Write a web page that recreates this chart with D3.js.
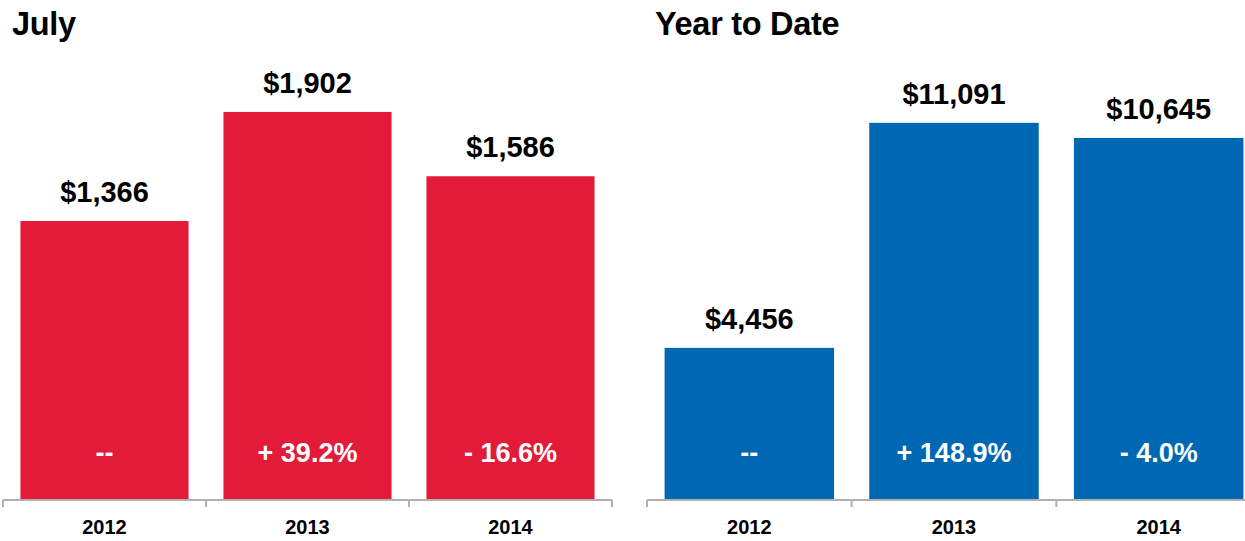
<!DOCTYPE html>
<html>
<head>
<meta charset="utf-8">
<script src="https://cdn.jsdelivr.net/npm/d3@7"></script>
<style>
  html, body { margin: 0; padding: 0; background: #fff; }
  svg { display: block; font-family: "Liberation Sans", Arial, sans-serif; }
</style>
</head>
<body>
<svg id="chart" width="1245" height="541"></svg>
<script>
// Sales by year: month and year-to-date totals
const years = ["2012", "2013", "2014"];
const julyValues = [1366, 1902, 1586];
const julyChange = ["--", "+ 39.2%", "- 16.6%"];
const ytdValues = [4456, 11091, 10645];
const ytdChange = ["--", "+ 148.9%", "- 4.0%"];
const panelTitles = ["July", "Year to Date"];

const svg = d3.select("#chart");
const baseY = 500;

function panel(opts) {
  const g = svg.append("g");
  const x = d3.scaleBand().domain(years).range(opts.xRange)
    .paddingInner(0.172).paddingOuter(0.086);
  const y = d3.scaleLinear().domain([0, opts.yMax]).range([baseY - 1, 92]);
  const step = x.step();
  const half = step * 0.172 / 2;

  g.append("text")
    .attr("x", opts.titleX).attr("y", 35)
    .attr("font-size", 32.5).attr("font-weight", "bold")
    .attr("letter-spacing", -0.3)
    .attr("fill", "#000")
    .text(opts.title);

  g.selectAll("rect.bar").data(opts.values).join("rect")
    .attr("class", "bar")
    .attr("x", (d, i) => x(years[i]))
    .attr("y", d => y(d))
    .attr("width", x.bandwidth())
    .attr("height", d => y(0) - y(d))
    .attr("fill", opts.color);

  g.selectAll("text.val").data(opts.values).join("text")
    .attr("class", "val")
    .attr("x", (d, i) => x(years[i]) + x.bandwidth() / 2)
    .attr("y", d => y(d) - 19)
    .attr("text-anchor", "middle")
    .attr("font-size", 29).attr("font-weight", "bold")
    .attr("fill", "#000")
    .text(d => "$" + d3.format(",")(d));

  g.selectAll("text.chg").data(opts.change).join("text")
    .attr("class", "chg")
    .attr("x", (d, i) => x(years[i]) + x.bandwidth() / 2)
    .attr("y", 462)
    .attr("text-anchor", "middle")
    .attr("font-size", 27).attr("font-weight", "bold")
    .attr("fill", "#fff")
    .text(d => d);

  // category axis with ticks at band boundaries
  const r = x.range();
  g.append("line")
    .attr("x1", r[0]).attr("x2", r[1])
    .attr("y1", baseY).attr("y2", baseY)
    .attr("stroke", "#b0b0b0").attr("stroke-width", 2);
  const bounds = years.map(d => x(d) - half).concat([r[1]]);
  g.selectAll("line.tick").data(bounds).join("line")
    .attr("class", "tick")
    .attr("x1", d => d).attr("x2", d => d)
    .attr("y1", baseY).attr("y2", baseY + 7)
    .attr("stroke", "#b0b0b0").attr("stroke-width", 2);

  g.selectAll("text.yr").data(years).join("text")
    .attr("class", "yr")
    .attr("x", d => x(d) + x.bandwidth() / 2)
    .attr("y", 534)
    .attr("text-anchor", "middle")
    .attr("font-size", 20).attr("font-weight", "bold")
    .attr("fill", "#000")
    .text(d => d);
}

panel({ title: panelTitles[0], titleX: 12, xRange: [3, 612], yMax: 2000,
        values: julyValues, change: julyChange, color: "#e31b38" });
panel({ title: panelTitles[1], titleX: 655, xRange: [647, 1261], yMax: 12000,
        values: ytdValues, change: ytdChange, color: "#0067b2" });
</script>
</body>
</html>
